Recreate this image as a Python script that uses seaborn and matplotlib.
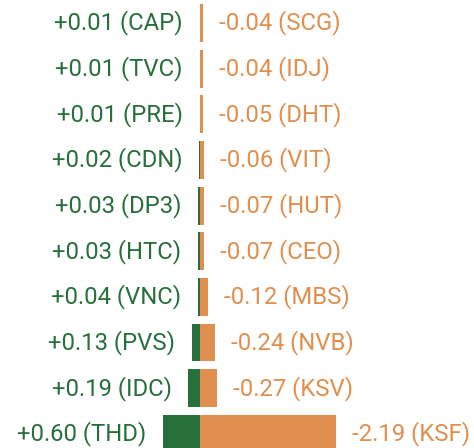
import matplotlib
matplotlib.use('Agg')
import matplotlib.pyplot as plt
import pandas as pd
import seaborn as sns

gain_codes = ['CAP', 'TVC', 'PRE', 'CDN', 'DP3', 'HTC', 'VNC', 'PVS', 'IDC', 'THD']
gain_vals = [0.01, 0.01, 0.01, 0.02, 0.03, 0.03, 0.04, 0.13, 0.19, 0.60]
loss_codes = ['SCG', 'IDJ', 'DHT', 'VIT', 'HUT', 'CEO', 'MBS', 'NVB', 'KSV', 'KSF']
loss_vals = [-0.04, -0.04, -0.05, -0.06, -0.07, -0.07, -0.12, -0.24, -0.27, -2.19]

green = '#276f3b'
orange = '#e08f4e'

sns.set_style('white')
plt.rcParams['font.family'] = ['Roboto', 'DejaVu Sans']

rows = list(range(len(gain_codes)))
df = pd.DataFrame({
    'row': rows * 2,
    'x': [-v for v in gain_vals] + [-v for v in loss_vals],
    'side': ['gain'] * len(rows) + ['loss'] * len(rows),
})

fig = plt.figure(figsize=(4.74, 4.48), dpi=100)
ax = fig.add_axes([0, 0, 1, 1])

for side, col in [('gain', green), ('loss', orange)]:
    sub = df[df['side'] == side]
    ax.barh(sub['row'], sub['x'], height=0.83, color=col, linewidth=0)

for i in rows:
    ax.annotate(f'+{gain_vals[i]:.2f} ({gain_codes[i]})', xy=(-gain_vals[i], i),
                xytext=(-12, 0), textcoords='offset points',
                ha='right', va='center', color=green, fontsize=17.2)
    ax.annotate(f'{loss_vals[i]:.2f} ({loss_codes[i]})', xy=(-loss_vals[i], i),
                xytext=(11.5, 0), textcoords='offset points',
                ha='left', va='center', color=orange, fontsize=17.2)

ax.set_xlim(-3.23, 4.42)
ax.set_ylim(9.31, -0.504)
ax.axis('off')

fig.savefig('out.png', dpi=100)
